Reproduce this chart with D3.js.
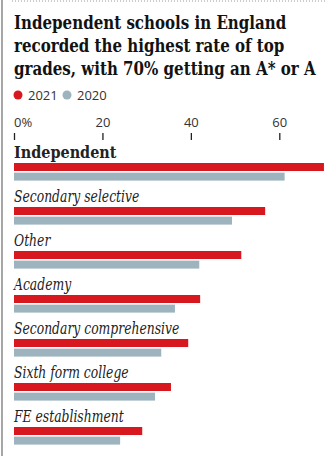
<!DOCTYPE html>
<html>
<head>
<meta charset="utf-8">
<script src="https://cdn.jsdelivr.net/npm/d3@7"></script>
<style>
  html, body { margin: 0; padding: 0; background: #fff; }
  svg { display: block; }
</style>
</head>
<body>
<div id="chart"></div>
<script>
// A* or A grades by school type, percentage of entries
const categories = [
  "Independent",
  "Secondary selective",
  "Other",
  "Academy",
  "Secondary comprehensive",
  "Sixth form college",
  "FE establishment"
];
const values2021 = [70.1, 56.8, 51.4, 42.1, 39.4, 35.5, 29.0];
const values2020 = [61.2, 49.3, 41.9, 36.4, 33.3, 31.9, 24.0];
const tickValues = [0, 20, 40, 60];
const tickLabels = ["0%", "20", "40", "60"];
const seriesNames = ["2021", "2020"];
const titleLines = [
  "Independent schools in England",
  "recorded the highest rate of top",
  "grades, with 70% getting an A* or A"
];

const W = 326, H = 456;
const RED = "#d7191f", GREY = "#9db3bd";
const serif = "'DejaVu Serif Condensed', 'DejaVu Serif', serif";
const sans = "'Open Sans', 'Liberation Sans', sans-serif";

const svg = d3.select("#chart").append("svg")
  .attr("width", W).attr("height", H);

// frame: dotted rule on top, grey rule on the left
svg.append("line")
  .attr("x1", 12).attr("x2", W).attr("y1", 1).attr("y2", 1)
  .attr("stroke", "#999").attr("stroke-width", 1)
  .attr("stroke-dasharray", "1,2");
svg.append("line")
  .attr("x1", 2).attr("x2", 2).attr("y1", 0).attr("y2", H)
  .attr("stroke", "#a6a6a6").attr("stroke-width", 2);

// headline, set slightly condensed
svg.append("g").selectAll("text").data(titleLines).join("text")
  .attr("transform", (d, i) => `translate(14,${29 + i * 23}) scale(0.93,1)`)
  .attr("font-family", serif)
  .attr("font-weight", "bold")
  .attr("font-size", 18)
  .attr("fill", "#121212")
  .text(d => d);

// legend
const legend = svg.append("g").attr("transform", "translate(0,95)");
const legendX = [18, 67];
seriesNames.forEach((name, i) => {
  legend.append("circle")
    .attr("cx", legendX[i]).attr("cy", 0).attr("r", 4.5)
    .attr("fill", i === 0 ? RED : GREY);
  legend.append("text")
    .attr("x", legendX[i] + 10).attr("y", 4.5)
    .attr("font-family", sans).attr("font-size", 13)
    .attr("fill", "#333")
    .text(name);
});

// scales
const x = d3.scaleLinear().domain([0, 60]).range([14, 279.3]);
const y = d3.scaleBand().domain(categories).range([163, 471]).paddingInner(0).paddingOuter(0);

// axis on top
const axis = d3.axisTop(x)
  .tickValues(tickValues)
  .tickFormat((d, i) => tickLabels[i])
  .tickSize(7)
  .tickPadding(6);
const axisG = svg.append("g")
  .attr("transform", "translate(0,140)")
  .call(axis);
axisG.select(".domain").remove();
axisG.selectAll(".tick line").attr("stroke", "#222").attr("stroke-width", 1.3);
axisG.selectAll(".tick text")
  .attr("font-family", sans).attr("font-size", 13).attr("fill", "#333")
  .attr("text-anchor", (d, i) => i === 0 ? "start" : "middle")
  .attr("dx", (d, i) => i === 0 ? -0.5 : 0);

// bars per category
const barH = 8, gap = 1.6;
const groups = svg.append("g").selectAll("g").data(categories).join("g")
  .attr("transform", d => `translate(0,${y(d)})`);

groups.append("text")
  .attr("transform", (d, i) => `translate(14,-5) scale(${i === 0 ? 1 : 0.86},1)`)
  .attr("font-family", serif)
  .attr("font-size", 16)
  .attr("font-weight", (d, i) => i === 0 ? "bold" : "normal")
  .attr("font-style", (d, i) => i === 0 ? "normal" : "italic")
  .attr("fill", "#222")
  .text(d => d);

groups.append("rect")
  .attr("x", x(0)).attr("y", 0)
  .attr("width", (d, i) => x(values2021[i]) - x(0))
  .attr("height", barH)
  .attr("fill", RED);

groups.append("rect")
  .attr("x", x(0)).attr("y", barH + gap)
  .attr("width", (d, i) => x(values2020[i]) - x(0))
  .attr("height", barH)
  .attr("fill", GREY);
</script>
</body>
</html>
